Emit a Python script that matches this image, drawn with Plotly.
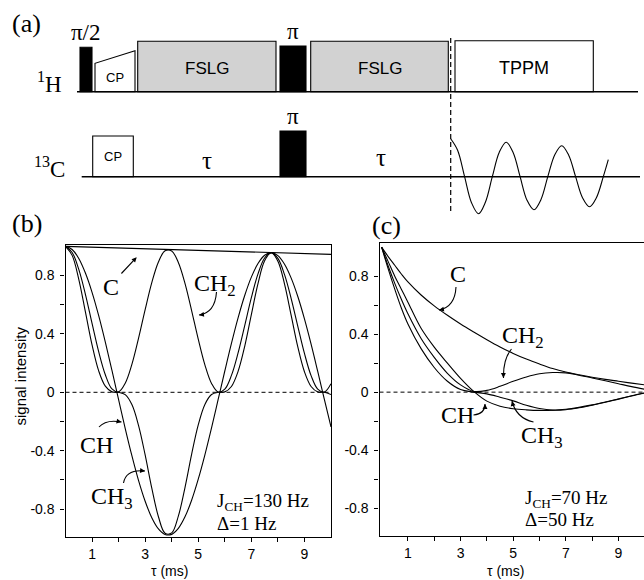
import plotly.graph_objects as go

# ---------------- data: panel (b)  J_CH = 130 Hz, Delta = 1 Hz ----------------
tau_b = [0, 0.25, 0.5, 0.75, 1, 1.25, 1.5, 1.75, 2, 2.25, 2.5, 2.75, 3, 3.25, 3.5, 3.75,
         4, 4.25, 4.5, 4.75, 5, 5.25, 5.5, 5.75, 6, 6.25, 6.5, 6.75, 7, 7.25, 7.5, 7.75,
         8, 8.25, 8.5, 8.75, 9, 9.25, 9.5, 9.75, 10]
CH_b = [1.000, 0.978, 0.917, 0.817, 0.685, 0.525, 0.344, 0.150, -0.050, -0.248, -0.434,
        -0.603, -0.746, -0.859, -0.936, -0.974, -0.973, -0.932, -0.853, -0.739, -0.595,
        -0.428, -0.243, -0.049, 0.146, 0.335, 0.510, 0.663, 0.789, 0.882, 0.939, 0.957,
        0.936, 0.877, 0.782, 0.656, 0.503, 0.330, 0.143, -0.048, -0.237]
CH2_b = [1.000, 0.958, 0.842, 0.671, 0.472, 0.278, 0.120, 0.023, 0.003, 0.062, 0.191,
         0.369, 0.566, 0.751, 0.893, 0.969, 0.968, 0.889, 0.746, 0.560, 0.364, 0.188,
         0.061, 0.002, 0.022, 0.116, 0.270, 0.457, 0.648, 0.811, 0.920, 0.957, 0.917,
         0.806, 0.642, 0.452, 0.266, 0.114, 0.022, 0.002, 0.059]
CH3_b = [1.000, 0.938, 0.774, 0.551, 0.325, 0.147, 0.042, 0.003, 0.000, -0.016, -0.084,
         -0.226, -0.429, -0.657, -0.852, -0.965, -0.963, -0.848, -0.652, -0.425, -0.223,
         -0.083, -0.015, 0.000, 0.003, 0.040, 0.143, 0.315, 0.532, 0.745, 0.901, 0.957,
         0.898, 0.741, 0.527, 0.311, 0.141, 0.040, 0.003, 0.000, -0.015]
tau_Cb = [0, 10]
C_b = [1.000, 0.945]

# ---------------- data: panel (c)  J_CH = 70 Hz, Delta = 50 Hz ----------------
tau_c = [0, 0.25, 0.5, 0.75, 1, 1.5, 2, 2.5, 3, 3.5, 4, 4.5, 5, 5.5, 6, 6.5, 7, 7.5,
         8, 8.5, 9, 9.5, 10]
C_c = [1.0, 0.935, 0.875, 0.815, 0.76, 0.67, 0.595, 0.53, 0.47, 0.415, 0.362, 0.312,
       0.267, 0.228, 0.194, 0.163, 0.139, 0.12, 0.103, 0.088, 0.075, 0.062, 0.05]
CH_c = [1.0, 0.90, 0.80, 0.71, 0.62, 0.44, 0.31, 0.20, 0.095, 0.005, -0.062, -0.097,
        -0.114, -0.122, -0.126, -0.125, -0.118, -0.105, -0.088, -0.068, -0.047, -0.025, -0.005]
CH2_c = [1.0, 0.87, 0.75, 0.64, 0.54, 0.37, 0.24, 0.13, 0.05, 0.005, 0.012, 0.04,
         0.075, 0.105, 0.127, 0.135, 0.133, 0.117, 0.098, 0.078, 0.058, 0.038, 0.02]
CH3_c = [1.0, 0.85, 0.71, 0.58, 0.47, 0.30, 0.17, 0.075, 0.018, 0.0, -0.012, -0.035,
         -0.06, -0.09, -0.113, -0.124, -0.121, -0.108, -0.09, -0.07, -0.048, -0.026, -0.006]

# ---------------- tick labels ----------------
x_tickvals = [1, 2, 3, 4, 5, 6, 7, 8, 9]
x_ticktext = ["1", "", "3", "", "5", "", "7", "", "9"]
y_tickvals = [-0.8, -0.6, -0.4, -0.2, 0, 0.2, 0.4, 0.6, 0.8]
y_ticktext = ["-0.8", "", "-0.4", "", "0", "", "0.4", "", "0.8"]

# ---------------- pulse sequence (a), diagram units ----------------
H_BASE, C_BASE = 91.7, 176.7
h_labels = ["π/2", "CP", "FSLG", "π", "FSLG", "TPPM"]
h_start = [80, 95, 137.7, 280, 310.7, 455]
h_end = [92, 135, 276, 306, 448.3, 593.3]
h_hl = [44.4, 28.4, 50.4, 45.7, 50.4, 51]
h_hr = [44.4, 41, 50.4, 45.7, 50.4, 51]
h_kind = ["pulse", "box", "gray", "pulse", "gray", "box"]
c_labels = ["CP", "π"]
c_start = [92.7, 280]
c_end = [133.3, 306]
c_h = [40.7, 45.7]
c_kind = ["box", "pulse"]
tau_label_x = [206.7, 380.8]
tau_label_y = [160, 157]
acq_x = 450.7
fid_x = [450.7, 457.6, 464.6, 471.5, 478.5, 485.4, 492.3, 499.3, 506.2, 513.2, 520.1,
         527.0, 534.0, 540.9, 547.8, 554.8, 561.7, 568.7, 575.6, 582.5, 589.5, 596.4,
         603.3, 608.3]
fid_amp = [38, 26.5, 0, -26, -37, -25.5, 0, 24.5, 34.5, 24, 0, -23.5, -33, -23, 0, 22,
           31, 21.5, 0, -21, -30, -21, 0, 17]

SERIF = "Liberation Serif, Times New Roman, serif"
SANS = "Liberation Sans, Arial, sans-serif"
W, H = 644, 580

fig = go.Figure()
ls = dict(color="black", width=1.1, shape="spline", smoothing=1.0)

fig.add_trace(go.Scatter(x=tau_Cb, y=C_b, mode="lines", line=dict(color="black", width=1.2),
                         xaxis="x", yaxis="y"))
for ys in (CH_b, CH2_b, CH3_b):
    fig.add_trace(go.Scatter(x=tau_b, y=ys, mode="lines", line=ls, xaxis="x", yaxis="y"))
for ys in (C_c, CH_c, CH2_c, CH3_c):
    fig.add_trace(go.Scatter(x=tau_c, y=ys, mode="lines", line=ls, xaxis="x2", yaxis="y2"))

# FID in diagram
fig.add_trace(go.Scatter(x=fid_x, y=[C_BASE - a for a in fid_amp], mode="lines",
                         line=dict(color="black", width=1.1, shape="spline", smoothing=1.0),
                         xaxis="x3", yaxis="y3", cliponaxis=False))

shapes = []
annotations = []


def txt(x, y, text, size, family=SERIF, xanchor="center", yanchor="middle", **kw):
    annotations.append(dict(x=x, y=y, xref="x3", yref="y3", text=text, showarrow=False,
                            font=dict(family=family, size=size, color="black"),
                            xanchor=xanchor, yanchor=yanchor, **kw))


def element(x0, x1, base, hl, hr, kind, label):
    path = f"M{x0},{base} L{x0},{base - hl} L{x1},{base - hr} L{x1},{base} Z"
    fill = {"pulse": "black", "box": "white", "gray": "#d2d2d2"}[kind]
    shapes.append(dict(type="path", path=path, xref="x3", yref="y3", fillcolor=fill,
                       line=dict(color="black", width=1.1)))
    cx = (x0 + x1) / 2
    if kind == "pulse":
        txt(cx, base - max(hl, hr) - 15, label, 23)
    elif label == "CP":
        txt(cx, base - min(hl, hr) / 2, label, 13, family=SANS)
    else:
        txt(cx, base - min(hl, hr) / 2 + 1.5, label, 18 if label == "TPPM" else 17, family=SANS)


for lab, a, b, hl, hr, k in zip(h_labels, h_start, h_end, h_hl, h_hr, h_kind):
    element(a, b, H_BASE, hl, hr, k, lab)
for lab, a, b, hh, k in zip(c_labels, c_start, c_end, c_h, c_kind):
    element(a, b, C_BASE, hh, hh, k, lab)

shapes.append(dict(type="line", xref="x3", yref="y3", x0=77, x1=638, y0=H_BASE, y1=H_BASE,
                   line=dict(color="black", width=1.4)))
shapes.append(dict(type="line", xref="x3", yref="y3", x0=81.7, x1=640, y0=C_BASE, y1=C_BASE,
                   line=dict(color="black", width=1.4)))
shapes.append(dict(type="line", xref="x3", yref="y3", x0=acq_x, x1=acq_x, y0=38, y1=211,
                   line=dict(color="black", width=1.2, dash="5px,3px")))

for tx, ty in zip(tau_label_x, tau_label_y):
    txt(tx, ty, "τ", 25)
txt(49, 82, "<sup>1</sup>H", 23)
txt(49, 167, "<sup>13</sup>C", 23)
txt(26.5, 23, "(a)", 26)
txt(26.7, 223.5, "(b)", 26)
txt(386.7, 225, "(c)", 26)

# zero lines
shapes.append(dict(type="line", xref="x domain", yref="y", x0=0, x1=1, y0=0, y1=0,
                   line=dict(color="black", width=1, dash="4px,3px")))
shapes.append(dict(type="line", xref="x2 domain", yref="y2", x0=0, x1=1, y0=0, y1=0,
                   line=dict(color="black", width=1, dash="4px,3px")))

# curve labels
txt(110.5, 286.5, "C", 24)
txt(215, 285, "CH<sub>2</sub>", 24)
txt(96, 444.5, "CH", 24)
txt(112, 498, "CH<sub>3</sub>", 24)
txt(457.7, 273.8, "C", 24)
txt(522.5, 337, "CH<sub>2</sub>", 24)
txt(457.5, 415, "CH", 24)
txt(541.7, 437, "CH<sub>3</sub>", 24)

txt(215, 502, "J<sub>CH</sub>=130 Hz", 19, xanchor="left")
txt(215, 523, "Δ=1 Hz", 19, xanchor="left")
txt(523.3, 499, "J<sub>CH</sub>=70 Hz", 19, xanchor="left")
txt(523.3, 519.5, "Δ=50 Hz", 19, xanchor="left")

txt(169, 571, "τ (ms)", 14, family=SANS)
txt(505, 571, "τ (ms)", 14, family=SANS)
txt(20, 376.5, "signal intensity", 15, family=SANS, textangle=-90)

# straight arrow (b) C
annotations.append(dict(x=136.7, y=257.3, ax=120, ay=275, xref="x3", yref="y3", axref="x3",
                        ayref="y3", text="", showarrow=True, arrowhead=2, arrowsize=0.9,
                        arrowwidth=1.1, arrowcolor="black"))

# curved arrows: start, control, tip
curved = [((216.5, 292), (215, 313), (199, 315)),
          ((99, 427), (106, 419), (121.5, 422)),
          ((123.5, 483), (126, 469), (145, 471)),
          ((456, 287), (455, 307), (439, 310)),
          ((511.5, 349), (503, 359), (503.5, 378)),
          ((473.5, 415), (485, 414), (485, 404)),
          ((533.5, 422), (516, 418), (512, 401))]
for (sx, sy), (cx, cy), (tx, ty) in curved:
    shapes.append(dict(type="path", xref="x3", yref="y3",
                       path=f"M{sx},{sy} Q{cx},{cy} {tx},{ty}",
                       line=dict(color="black", width=1.1)))
    dx, dy = tx - cx, ty - cy
    n = (dx * dx + dy * dy) ** 0.5
    annotations.append(dict(x=tx, y=ty, ax=tx - dx / n * 6, ay=ty - dy / n * 6, xref="x3",
                            yref="y3", axref="x3", ayref="y3", text="", showarrow=True,
                            arrowhead=2, arrowsize=0.9, arrowwidth=1.1, arrowcolor="black"))

axis_common = dict(showline=True, linecolor="black", linewidth=1.3, ticks="outside",
                   ticklen=4, tickwidth=1, tickcolor="black", showgrid=False, zeroline=False,
                   tickfont=dict(family=SANS, size=14, color="black"))

fig.update_layout(
    width=W, height=H, margin=dict(l=0, r=0, t=0, b=0), showlegend=False,
    paper_bgcolor="white", plot_bgcolor="rgba(0,0,0,0)",
    xaxis=dict(domain=[65.5 / W, 331 / W], range=[0, 10], tickvals=x_tickvals,
               ticktext=x_ticktext, mirror=True, anchor="y", **axis_common),
    yaxis=dict(domain=[1 - 537 / H, 1 - 245 / H], range=[-0.991, 1.009], tickvals=y_tickvals,
               ticktext=y_ticktext, mirror=True, anchor="x", ticklabelstandoff=3, **axis_common),
    xaxis2=dict(domain=[379.5 / W, 1], range=[-0.08, 9.97], tickvals=x_tickvals,
                ticktext=x_ticktext, mirror=True, anchor="y2", **axis_common),
    yaxis2=dict(domain=[1 - 535.7 / H, 1 - 242.5 / H], range=[-0.99, 1.032],
                tickvals=y_tickvals, ticktext=y_ticktext, mirror=False, anchor="x2",
                ticklabelstandoff=3, **axis_common),
    xaxis3=dict(domain=[0, 1], range=[0, W], visible=False, anchor="y3", fixedrange=True),
    yaxis3=dict(domain=[0, 1], range=[H, 0], visible=False, anchor="x3", fixedrange=True),
    shapes=shapes, annotations=annotations,
)

fig.write_html("out.html", config={"displayModeBar": False},
               post_script="document.body.style.margin='0';document.body.style.overflow='hidden';")
